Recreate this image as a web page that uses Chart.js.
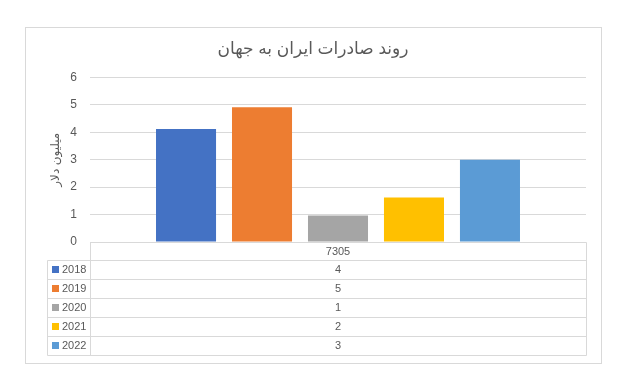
<!DOCTYPE html>
<html>
<head>
<meta charset="utf-8">
<script src="https://cdn.jsdelivr.net/npm/chart.js@4"></script>
<style>
  html, body { margin: 0; padding: 0; background: #fff; }
  #wrap { width: 625px; height: 385px; position: relative; }
</style>
</head>
<body>
<div id="wrap"><canvas id="chart"></canvas></div>
<script>
// داده‌ها
const categories = ['7305'];
const years = ['2018', '2019', '2020', '2021', '2022'];
const values2018 = [4.12];
const values2019 = [4.91];
const values2020 = [0.97];
const values2021 = [1.62];
const values2022 = [3.0];
const seriesColors = ['#4472C4', '#ED7D31', '#A5A5A5', '#FFC000', '#5B9BD5'];

const chartTitle = 'روند صادرات ایران به جهان';
const yTitle = 'میلیون دلار';

const FONT = "'Liberation Sans', 'DejaVu Sans', sans-serif";
const TEXT = '#595959';
const LINE = '#d9d9d9';

const allValues = [values2018, values2019, values2020, values2021, values2022];

const datasets = years.map((y, i) => ({
    label: y,
    data: allValues[i],
    backgroundColor: seriesColors[i],
    borderWidth: 0,
    categoryPercentage: 0.766,
    barPercentage: 0.79
}));

// جدول داده زیر نمودار
const dataTablePlugin = {
    id: 'dataTable',
    beforeDraw(chart) {
        const ctx = chart.ctx;
        ctx.save();
        ctx.fillStyle = '#fff';
        ctx.fillRect(0, 0, chart.width, chart.height);
        ctx.strokeStyle = LINE;
        ctx.lineWidth = 1;
        ctx.strokeRect(25.5, 27.5, 576, 336);
        ctx.restore();
    },
    afterDraw(chart) {
        const ctx = chart.ctx;
        const area = chart.chartArea;
        const xs = chart.scales.x;
        const top = Math.round(area.bottom);
        const headerH = 18;
        const rowH = 19;
        const left = 47;
        const mid = Math.round(area.left);
        const right = Math.round(area.right);
        const bottom = top + headerH + rowH * years.length;

        ctx.save();
        ctx.strokeStyle = LINE;
        ctx.lineWidth = 1;
        ctx.beginPath();
        ctx.moveTo(mid + 0.5, top + 0.5);
        ctx.lineTo(right + 0.5, top + 0.5);
        ctx.moveTo(right + 0.5, top + 0.5);
        ctx.lineTo(right + 0.5, bottom + 0.5);
        ctx.moveTo(mid + 0.5, top + 0.5);
        ctx.lineTo(mid + 0.5, bottom + 0.5);
        ctx.moveTo(left + 0.5, top + headerH + 0.5);
        ctx.lineTo(left + 0.5, bottom + 0.5);
        for (let r = 0; r <= years.length; r++) {
            const y = top + headerH + r * rowH + 0.5;
            ctx.moveTo(left + 0.5, y);
            ctx.lineTo(right + 0.5, y);
        }
        ctx.stroke();

        ctx.font = '11px ' + FONT;
        ctx.fillStyle = TEXT;
        ctx.textBaseline = 'middle';
        ctx.textAlign = 'center';
        categories.forEach((c, ci) => {
            const cx = xs.getPixelForValue(ci);
            ctx.fillText(c, cx, top + headerH / 2 + 0.5);
            years.forEach((y, i) => {
                const v = chart.data.datasets[i].data[ci];
                ctx.fillStyle = TEXT;
                ctx.fillText(v.toFixed(0), cx, top + headerH + i * rowH + rowH / 2 + 0.5);
            });
        });

        ctx.textAlign = 'left';
        years.forEach((y, i) => {
            const cy = top + headerH + i * rowH + rowH / 2;
            ctx.fillStyle = seriesColors[i];
            ctx.fillRect(52, Math.round(cy - 3.5), 7, 7);
            ctx.fillStyle = TEXT;
            ctx.fillText(y, 62, cy + 0.5);
        });
        ctx.restore();
    }
};

new Chart(document.getElementById('chart'), {
    type: 'bar',
    data: {
        labels: categories,
        datasets: datasets
    },
    options: {
        responsive: true,
        maintainAspectRatio: false,
        animation: false,
        layout: {
            padding: { left: 40, right: 39, top: 0, bottom: 143 }
        },
        plugins: {
            legend: { display: false },
            tooltip: { enabled: false },
            title: {
                display: true,
                text: chartTitle,
                color: TEXT,
                font: { family: FONT, size: 17, weight: 'normal' },
                padding: { top: 39, bottom: 18 }
            }
        },
        scales: {
            x: {
                display: false
            },
            y: {
                min: 0,
                max: 6,
                afterFit(scale) { scale.width = 50; },
                border: { display: false },
                grid: { color: LINE, drawTicks: false },
                ticks: {
                    stepSize: 1,
                    padding: 13,
                    color: TEXT,
                    font: { family: FONT, size: 12 }
                },
                title: {
                    display: true,
                    text: yTitle,
                    color: TEXT,
                    font: { family: FONT, size: 12 },
                    padding: { top: 8, bottom: 0 }
                }
            }
        }
    },
    plugins: [dataTablePlugin]
});
</script>
</body>
</html>
